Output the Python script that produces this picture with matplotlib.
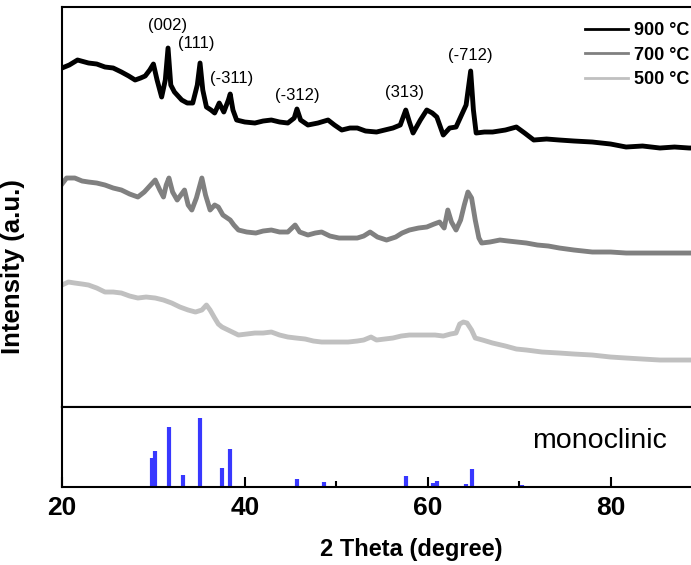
import numpy as np
import matplotlib
matplotlib.use("Agg")
import matplotlib.pyplot as plt

plt.rcParams['font.family'] = ['Liberation Sans', 'DejaVu Sans']

# 900 C trace (2 theta, intensity a.u.)
tt_900 = [20.0, 20.8, 21.7, 22.9, 23.8, 24.7, 25.6, 26.5, 27.3, 28.0, 28.6, 29.1, 29.6, 30.0,
          30.4, 30.9, 31.3, 31.6, 31.9, 32.3, 33.1, 33.7, 34.3, 34.8, 35.1, 35.4, 35.8, 36.3,
          36.7, 37.2, 37.7, 38.2, 38.4, 38.7, 39.1, 40.0, 41.1, 42.0, 42.9, 43.8, 44.7, 45.4,
          45.7, 46.1, 46.9, 48.0, 49.1, 49.8, 50.6, 51.5, 52.3, 53.2, 54.4, 55.3, 56.2, 57.0,
          57.6, 58.0, 58.4, 59.2, 59.9, 60.5, 61.0, 61.7, 62.4, 63.1, 63.7, 64.2, 64.7, 65.0,
          65.3, 66.2, 67.1, 68.5, 69.7, 70.6, 71.6, 73.0, 74.4, 76.0, 78.0, 80.0, 81.7, 83.5,
          85.4, 87.0, 88.6, 90.0]
i_900 = [339, 342, 347, 344, 343, 340, 339, 335, 331, 327, 329, 331, 337, 343,
         327, 310, 327, 359, 322, 315, 307, 304, 304, 322, 344, 317, 300, 297,
         294, 304, 295, 307, 313, 297, 287, 285, 284, 286, 287, 285, 284, 289,
         298, 287, 282, 284, 287, 282, 277, 279, 279, 276, 275, 277, 279, 282,
         297, 285, 274, 287, 297, 294, 290, 272, 279, 280, 292, 302, 336, 297,
         274, 275, 275, 277, 280, 274, 267, 268, 267, 266, 265, 263, 260, 261,
         259, 260, 259, 259]

# 700 C trace
tt_700 = [20.0, 20.5, 21.4, 22.2, 22.9, 23.8, 24.7, 25.6, 26.5, 27.4, 28.3, 29.0, 29.6, 30.2,
          30.7, 31.1, 31.4, 31.7, 32.1, 32.6, 33.0, 33.4, 33.8, 34.2, 34.7, 35.3, 35.7, 36.2,
          36.7, 37.1, 37.6, 38.4, 38.8, 39.3, 40.2, 41.2, 42.0, 42.9, 43.8, 44.7, 45.5, 46.0,
          46.9, 47.7, 48.4, 49.3, 50.3, 51.2, 52.3, 53.0, 53.7, 54.5, 55.5, 56.5, 57.2, 58.0,
          59.0, 59.9, 60.7, 61.3, 61.8, 62.2, 62.6, 63.1, 63.6, 64.0, 64.4, 64.8, 65.2, 65.6,
          65.9, 66.8, 67.9, 68.8, 69.8, 70.8, 72.0, 73.2, 74.4, 76.0, 78.0, 80.0, 81.7, 83.5,
          85.4, 87.0, 88.6, 90.0]
i_700 = [223, 229, 229, 226, 225, 224, 222, 219, 217, 213, 210, 215, 221, 227,
         217, 210, 222, 229, 215, 207, 212, 217, 202, 197, 209, 229, 212, 197,
         202, 200, 192, 187, 182, 177, 175, 174, 176, 177, 175, 175, 182, 175,
         172, 174, 175, 171, 169, 169, 169, 171, 175, 170, 167, 170, 174, 177,
         179, 180, 183, 185, 179, 197, 185, 177, 187, 202, 215, 209, 187, 169,
         164, 165, 167, 166, 165, 164, 162, 161, 159, 157, 155, 155, 154, 154,
         154, 154, 154, 154]

# 500 C trace
tt_500 = [20.0, 20.7, 21.4, 22.2, 22.9, 23.8, 24.7, 25.6, 26.5, 27.4, 28.3, 29.2, 30.2, 31.1,
          32.0, 32.9, 33.8, 34.6, 35.3, 35.8, 36.2, 36.7, 37.1, 37.5, 38.4, 39.3, 40.2, 41.1,
          42.0, 42.9, 43.8, 44.7, 45.6, 46.6, 47.5, 48.4, 49.4, 50.3, 51.3, 52.3, 53.0, 53.8,
          54.4, 55.3, 56.2, 57.1, 58.0, 59.0, 59.9, 60.8, 61.7, 62.5, 63.1, 63.5, 63.9, 64.3,
          64.8, 65.2, 66.0, 67.1, 68.5, 69.7, 70.8, 72.5, 74.4, 76.0, 78.0, 80.0, 81.7, 83.5,
          85.4, 87.0, 88.6, 90.0]
i_500 = [122, 125, 124, 123, 122, 119, 115, 115, 114, 111, 109, 110, 109, 107,
         104, 100, 97, 95, 97, 102, 97, 89, 83, 80, 76, 72, 73, 74,
         74, 75, 72, 70, 69, 68, 66, 65, 65, 65, 65, 66, 67, 70,
         67, 68, 69, 71, 72, 72, 72, 72, 71, 73, 74, 83, 85, 84,
         77, 69, 67, 64, 61, 58, 57, 55, 54, 53, 52, 50, 49, 48,
         47, 47, 47, 47]

# reference pattern (monoclinic)
ref_pos = [29.9, 30.2, 31.7, 33.2, 35.1, 37.5, 38.4, 45.7, 48.7, 57.6, 60.6, 61.0, 62.7, 64.2, 64.8, 70.35]
ref_int = [29, 36.6, 60.6, 12.3, 69, 19.6, 38, 8.3, 5.6, 11.3, 4, 6.6, 1.3, 3.3, 18, 2.3]

# peak labels
hkl = ['(002)', '(111)', '(-311)', '(-312)', '(313)', '(-712)']
hkl_x = [31.5, 34.7, 38.55, 45.75, 57.5, 64.7]
hkl_y = [382, 364, 329, 312, 315, 352]

fig = plt.figure(figsize=(6.91, 5.65), dpi=100)
ax = fig.add_axes([0.0897, 0.2796, 0.9262, 0.708])
ax2 = fig.add_axes([0.0897, 0.1375, 0.9262, 0.1421], sharex=ax)

ax.plot(tt_900, i_900, color='black', lw=3.5, label='900 °C')
ax.plot(tt_700, i_700, color='#808080', lw=3.5, label='700 °C')
ax.plot(tt_500, i_500, color='#c0c0c0', lw=3.5, label='500 °C')

for lab, x, y in zip(hkl, hkl_x, hkl_y):
    ax.text(x, y, lab, ha='center', va='center', fontsize=12)

ax.set_xlim(20, 90)
ax.set_ylim(0, 400)
ax.set_yticks([])
ax.tick_params(axis='x', which='both', bottom=False, labelbottom=False)
for s in ax.spines.values():
    s.set_linewidth(1.5)

leg = ax.legend(loc='upper left', bbox_to_anchor=(585 / 691, 1 - 22 / 565),
                bbox_transform=fig.transFigure, frameon=False, borderpad=0,
                borderaxespad=0, handlelength=2.4, handletextpad=0.3,
                labelspacing=0.42, prop={'weight': 'bold', 'size': 13})
for line in leg.get_lines():
    line.set_linewidth(2)

ax.set_ylabel('Intensity (a.u.)', fontsize=18.5, fontweight='bold')
ax.yaxis.set_label_coords(-0.058, 0.35)

ax2.vlines(ref_pos, 0, ref_int, color='#3838ff', lw=3)
ax2.set_ylim(0, 80.3)
ax2.set_yticks([])
ax2.set_xticks([20, 40, 60, 80])
ax2.set_xticks([30, 50, 70], minor=True)
ax2.tick_params(axis='x', which='major', direction='in', length=7, width=1.5,
                labelsize=19, pad=6)
ax2.tick_params(axis='x', which='minor', direction='in', length=4, width=1.5)
for t in ax2.get_xticklabels():
    t.set_fontweight('bold')
for s in ax2.spines.values():
    s.set_linewidth(1.5)
ax2.text(71.4, 46, 'monoclinic', ha='left', va='center', fontsize=20.5)

ax2.set_xlabel('2 Theta (degree)', fontsize=17, fontweight='bold')
ax2.xaxis.set_label_coords(0.545, -0.63)

fig.savefig('out.png', dpi=100)
